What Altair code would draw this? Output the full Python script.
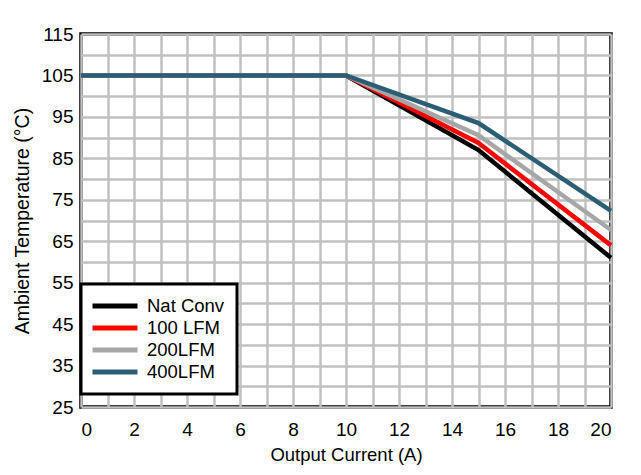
import altair as alt
import pandas as pd

series = ["Nat Conv", "100 LFM", "200LFM", "400LFM"]
colors = ["#000000", "#ff0000", "#a6a6a6", "#2b5d74"]
current = [0, 10, 15, 20]
nat_conv = [105, 105, 87.0, 61.0]
lfm100 = [105, 105, 88.7, 64.0]
lfm200 = [105, 105, 90.6, 67.7]
lfm400 = [105, 105, 93.5, 72.3]

x_ticks = list(range(0, 21))
y_ticks = list(range(25, 116, 5))

rows = []
for i, (name, vals) in enumerate(zip(series, [nat_conv, lfm100, lfm200, lfm400])):
    for c, v in zip(current, vals):
        rows.append({"series": name, "order": i, "x": c, "y": v})
df = pd.DataFrame(rows)

font = "Liberation Sans"

chart = alt.Chart(df).mark_line(strokeWidth=4.5).encode(
    x=alt.X("x:Q", scale=alt.Scale(domain=[0, 20], nice=False),
            axis=alt.Axis(values=x_ticks, title="Output Current (A)",
                          labelExpr="datum.value % 2 == 0 ? datum.label : ''",
                          ticks=False, domain=False, labelPadding=13,
                          titlePadding=6, titleFontSize=18.5, labelFontSize=19)),
    y=alt.Y("y:Q", scale=alt.Scale(domain=[25, 115], nice=False, zero=False),
            axis=alt.Axis(values=y_ticks, title="Ambient Temperature (°C)",
                          labelExpr="(datum.value - 25) % 10 == 0 ? datum.label : ''",
                          ticks=False, domain=False, labelPadding=8,
                          titlePadding=9, titleFontSize=19.5, labelFontSize=19)),
    color=alt.Color("series:N", scale=alt.Scale(domain=series, range=colors),
                    sort=series,
                    legend=alt.Legend(title=None, orient="none", legendX=0, legendY=250,
                                      symbolType="M-3,0H3", symbolSize=225,
                                      symbolStrokeWidth=5, symbolFillColor="transparent",
                                      fillColor="white",
                                      strokeColor="black", padding=12,
                                      labelFontSize=18.5, labelFont=font,
                                      labelColor="black", rowPadding=2,
                                      labelOffset=22, symbolOffset=12)),
    order=alt.Order("order:Q"),
).properties(
    width=530, height=373,
    autosize=alt.AutoSizeParams(type="none"),
    padding={"left": 73, "top": 26, "right": 22, "bottom": 60},
).configure_view(
    stroke="black", strokeWidth=3.5
).configure_axis(
    gridColor="#c0c0c0", gridWidth=2.5, gridOpacity=1,
    labelFont=font, labelColor="black",
    titleFont=font, titleColor="black", titleFontWeight="normal",
).configure_legend(
    strokeWidth=3
)

chart.save("out.html", embed_options={"renderer": "svg", "actions": False})
